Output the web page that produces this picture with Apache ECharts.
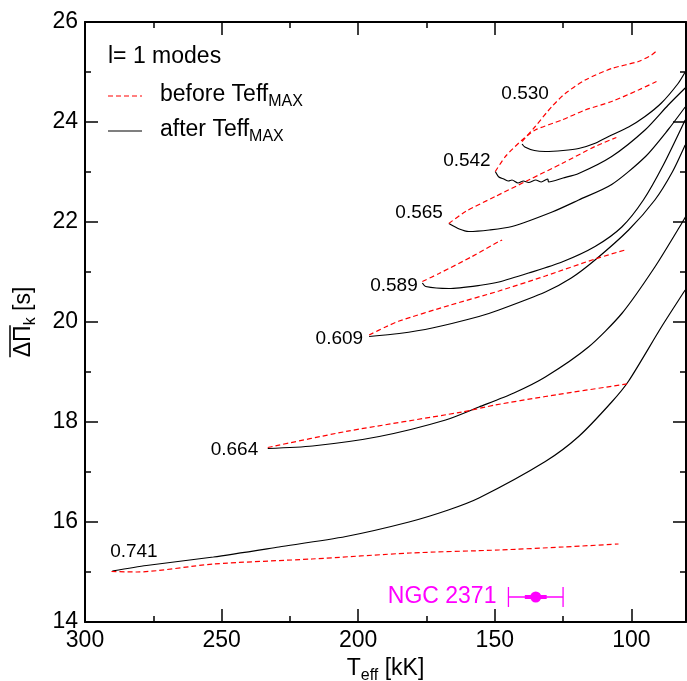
<!DOCTYPE html>
<html>
<head>
<meta charset="utf-8">
<script src="https://cdn.jsdelivr.net/npm/echarts@6/dist/echarts.min.js"></script>
<style>
  html, body { margin: 0; padding: 0; background: #fff; }
  #chart { width: 687px; height: 681px; }
</style>
</head>
<body>
<div id="chart"></div>
<script>
const FONT = '"Liberation Sans", Arial, Helvetica, sans-serif';

// Mean period spacing (s) against Teff (kK) for l = 1 modes, one track per stellar mass.
// Each point is [Teff, mean period spacing]. "before" = before Teff max (red dashed), "after" = after (black).
const before530 = [[140,23.61],[135.2,23.91],[129.1,24.31],[124.2,24.57],[116.9,24.84],[107.2,25.07],[97.4,25.21],[92.6,25.34],[90.8,25.42]];
const after530  = [[140,23.56],[139,23.50],[135.5,23.43],[131.5,23.41],[125,23.43],[119.3,23.47],[113,23.58],[107.2,23.74],[101,23.90],[95,24.11],[89,24.38],[82.9,24.77],[80.3,25.0]];

const before542 = [[149.8,23.01],[146.1,23.31],[140,23.64],[135.2,23.84],[125.4,24.04],[116.9,24.24],[107.2,24.41],[97.4,24.64],[90.8,24.81]];
const after542  = [[149.8,23.01],[148.5,22.90],[146.7,22.86],[145,22.82],[143.7,22.84],[141.5,22.78],[139.5,22.82],[137.6,22.79],[135,22.84],[133,22.80],[130.6,22.86],[130.3,22.80],[125,22.88],[119.3,22.97],[107.2,23.31],[95,23.84],[86.5,24.34],[80.3,24.68]];

const before565 = [[166.8,21.97],[160.7,22.21],[149.8,22.51],[137.6,22.84],[125.4,23.17],[113.3,23.51],[105.5,23.69]];
const after565  = [[166.8,21.97],[163,21.86],[159.5,21.81],[152,21.84],[143.7,21.91],[129,22.20],[119.3,22.44],[107.2,22.75],[95,23.30],[86.5,23.85],[80.3,24.30]];

const before589 = [[176.5,20.81],[170.4,20.97],[158.3,21.31],[148.5,21.61],[147.3,21.64]];
const after589  = [[176.5,20.78],[175.3,20.71],[166.8,20.67],[154.6,20.74],[148.5,20.80],[137.6,20.98],[125.4,21.2],[113.3,21.51],[103.5,21.90],[95.6,22.44],[88.3,23.14],[80.3,24.04]];

const before609 = [[196,19.74],[190,19.90],[185,20.02],[166.8,20.33],[148.5,20.62],[131.5,20.92],[113.3,21.26],[101.7,21.45]];
const after609  = [[196,19.71],[185,19.77],[172.9,19.88],[155.8,20.11],[148.5,20.24],[131.5,20.60],[122,20.88],[113.3,21.24],[101,21.84],[91.4,22.44],[85,23.0],[80.3,23.54]];

const before664 = [[233.1,17.49],[204.5,17.81],[162,18.20],[149.8,18.34],[131.5,18.51],[100.5,18.77]];
const after664  = [[233.1,17.47],[216.7,17.52],[192.3,17.71],[168,18.04],[155.8,18.30],[143,18.58],[131.5,18.90],[115.7,19.5],[103.5,20.17],[91.4,21.1],[81.6,21.97],[80,22.12]];

const before741 = [[290.3,15.01],[281,15.0],[253,15.16],[217,15.26],[181,15.38],[148.5,15.44],[125,15.50],[104.7,15.56]];
const after741  = [[290,15.02],[277.5,15.13],[253,15.30],[229,15.50],[204.5,15.71],[181.4,16.0],[167,16.24],[155.8,16.48],[131.5,17.21],[119.3,17.71],[107.2,18.40],[101,18.82],[89,19.9],[80.3,20.64]];

// Stellar mass labels (Msun) placed near the start of each track: [text, Teff, spacing]
const massLabels = [['0.530',138.9,24.56],['0.542',160.2,23.23],['0.565',177.7,22.19],['0.589',186.9,20.72],['0.609',206.9,19.66],['0.664',245.3,17.44],['0.741',282.1,15.41]];

// Observed star: [Teff, spacing, Teff low (outer), Teff high (outer), Teff low (inner), Teff high (inner)]
const ngc2371 = [[135, 14.5, 125, 145, 131, 139]];
const ngcName = 'NGC 2371';

// Axis ticks
const xMajor = [300, 250, 200, 150, 100];
const xMinor = [275, 225, 175, 125];

const beforeTracks = [before530, before542, before565, before589, before609, before664, before741];
const afterTracks  = [after530, after542, after565, after589, after609, after664, after741];

const RED = '#ff0000';
const MAGENTA = '#ff00ff';

const chart = echarts.init(document.getElementById('chart'), null, { renderer: 'canvas' });

function trackSeries(data, dashed) {
  return {
    type: 'line',
    data: data,
    xAxisIndex: 0, yAxisIndex: 0,
    showSymbol: false, symbol: 'none',
    smooth: 0.25,
    silent: true,
    animation: false,
    lineStyle: dashed
      ? { color: RED, width: 1.2, type: [5, 3] }
      : { color: '#000', width: 1.2 },
    z: dashed ? 3 : 2
  };
}

const series = [];
afterTracks.forEach(t => series.push(trackSeries(t, false)));
beforeTracks.forEach(t => series.push(trackSeries(t, true)));

// mass labels, drawn as plain text at data coordinates
series.push({
  type: 'custom',
  xAxisIndex: 0, yAxisIndex: 0,
  data: massLabels.map(d => [d[1], d[2], d[0]]),
  dimensions: ['teff', 'dp', 'mass'],
  silent: true,
  animation: false,
  renderItem: function (params, api) {
    const p = api.coord([api.value(0), api.value(1)]);
    return {
      type: 'text', x: p[0], y: p[1],
      style: { text: massLabels[params.dataIndex][0], fill: '#000', font: '19px ' + FONT, align: 'center', verticalAlign: 'middle' }
    };
  },
  z: 5
});

series.push({
  type: 'custom',
  xAxisIndex: 0, yAxisIndex: 0,
  data: ngc2371,
  silent: true,
  animation: false,
  renderItem: function (params, api) {
    const y = api.value(1);
    const c = api.coord([api.value(0), y]);
    const oLo = api.coord([api.value(2), y]);
    const oHi = api.coord([api.value(3), y]);
    const iLo = api.coord([api.value(4), y]);
    const iHi = api.coord([api.value(5), y]);
    const left = Math.min(oLo[0], oHi[0]);
    const right = Math.max(oLo[0], oHi[0]);
    const cap = 10;
    return {
      type: 'group',
      children: [
        { type: 'line', shape: { x1: left, y1: c[1], x2: right, y2: c[1] }, style: { stroke: MAGENTA, lineWidth: 1.3 } },
        { type: 'line', shape: { x1: left, y1: c[1] - cap, x2: left, y2: c[1] + cap }, style: { stroke: MAGENTA, lineWidth: 1.3 } },
        { type: 'line', shape: { x1: right, y1: c[1] - cap, x2: right, y2: c[1] + cap }, style: { stroke: MAGENTA, lineWidth: 1.3 } },
        { type: 'line', shape: { x1: iLo[0], y1: c[1], x2: iHi[0], y2: c[1] }, style: { stroke: MAGENTA, lineWidth: 4 } },
        { type: 'circle', shape: { cx: c[0], cy: c[1], r: 5.5 }, style: { fill: MAGENTA } },
        { type: 'text', x: left - 12, y: c[1], style: { text: ngcName, fill: MAGENTA, font: '23px ' + FONT, align: 'right', verticalAlign: 'middle' } }
      ]
    };
  },
  z: 6
});

// Y axis title: mean period spacing with overline over the Delta Pi symbol
const mctx = document.createElement('canvas').getContext('2d');
function textWidth(str, size) { mctx.font = size + 'px ' + FONT; return mctx.measureText(str).width; }
const wDP = textWidth('ΔΠ', 23);
const wSub = textWidth('k', 16);
const wRest = textWidth(' [s]', 23);
const wTotal = wDP + wSub + wRest;

const subRich = { fontSize: 16, fontFamily: FONT, color: '#000', padding: [14, 0, 0, 0] };

const option = {
  backgroundColor: '#fff',
  animation: false,
  grid: { left: 85, right: 1, top: 22, bottom: 59, containLabel: false, outerBoundsMode: 'none' },
  xAxis: [
    {
      type: 'value', min: 80, max: 300, inverse: true, position: 'bottom',
      axisLine: { show: true, onZero: false, lineStyle: { color: '#000', width: 2 } },
      axisTick: { show: true, inside: true, length: 13, customValues: xMajor, lineStyle: { color: '#000', width: 1.5 } },
      axisLabel: { show: true, customValues: xMajor, fontFamily: FONT, fontSize: 23, color: '#000', margin: 7 },
      splitLine: { show: false },
      name: 'T{s|eff} [kK]', nameLocation: 'middle', nameGap: 30,
      nameTextStyle: { fontFamily: FONT, fontSize: 23, color: '#000', rich: { s: subRich } }
    },
    {
      type: 'value', min: 80, max: 300, inverse: true, position: 'bottom',
      axisLine: { show: false },
      axisTick: { show: true, inside: true, length: 6, customValues: xMinor, lineStyle: { color: '#000', width: 1.5 } },
      axisLabel: { show: false }, splitLine: { show: false }
    },
    {
      type: 'value', min: 80, max: 300, inverse: true, position: 'top',
      axisLine: { show: true, onZero: false, lineStyle: { color: '#000', width: 2 } },
      axisTick: { show: true, inside: true, length: 13, customValues: xMajor, lineStyle: { color: '#000', width: 1.5 } },
      axisLabel: { show: false }, splitLine: { show: false }
    },
    {
      type: 'value', min: 80, max: 300, inverse: true, position: 'top',
      axisLine: { show: false },
      axisTick: { show: true, inside: true, length: 6, customValues: xMinor, lineStyle: { color: '#000', width: 1.5 } },
      axisLabel: { show: false }, splitLine: { show: false }
    }
  ],
  yAxis: [
    {
      type: 'value', min: 14, max: 26, interval: 2, position: 'left',
      axisLine: { show: true, onZero: false, lineStyle: { color: '#000', width: 2 } },
      axisTick: { show: true, inside: true, length: 13, lineStyle: { color: '#000', width: 1.5 } },
      minorTick: { show: true, splitNumber: 2, length: 6, lineStyle: { color: '#000', width: 1.5 } },
      axisLabel: { show: true, fontFamily: FONT, fontSize: 23, color: '#000', margin: 7 },
      splitLine: { show: false }, minorSplitLine: { show: false }
    },
    {
      type: 'value', min: 14, max: 26, interval: 2, position: 'right',
      axisLine: { show: true, onZero: false, lineStyle: { color: '#000', width: 2 } },
      axisTick: { show: true, inside: true, length: 13, lineStyle: { color: '#000', width: 1.5 } },
      minorTick: { show: true, splitNumber: 2, length: 6, lineStyle: { color: '#000', width: 1.5 } },
      axisLabel: { show: false },
      splitLine: { show: false }, minorSplitLine: { show: false }
    }
  ],
  graphic: [
    // legend
    { type: 'text', x: 108, y: 57, style: { text: 'l= 1 modes', font: '23px ' + FONT, fill: '#000', verticalAlign: 'middle' } },
    { type: 'line', shape: { x1: 108, y1: 96, x2: 142, y2: 96 }, style: { stroke: RED, lineWidth: 1.2, lineDash: [5, 3] } },
    { type: 'text', x: 160, y: 95, style: { text: '{a|before Teff}{s|MAX}', verticalAlign: 'middle', rich: { a: { fontSize: 23, fontFamily: FONT, color: '#000' }, s: subRich } } },
    { type: 'line', shape: { x1: 108, y1: 131, x2: 142, y2: 131 }, style: { stroke: '#000', lineWidth: 1.2 } },
    { type: 'text', x: 160, y: 130, style: { text: '{a|after Teff}{s|MAX}', verticalAlign: 'middle', rich: { a: { fontSize: 23, fontFamily: FONT, color: '#000' }, s: subRich } } },
    // y axis title
    {
      type: 'group', x: 24, y: 322, rotation: Math.PI / 2,
      children: [
        { type: 'text', x: -wTotal / 2, y: 0, style: { text: '{a|ΔΠ}{s|k}{a| [s]}', verticalAlign: 'middle', align: 'left', rich: { a: { fontSize: 23, fontFamily: FONT, color: '#000' }, s: subRich } } },
        { type: 'line', shape: { x1: -wTotal / 2, y1: -14, x2: -wTotal / 2 + wDP, y2: -14 }, style: { stroke: '#000', lineWidth: 1.5 } }
      ]
    }
  ],
  series: series
};

chart.setOption(option);
</script>
</body>
</html>
